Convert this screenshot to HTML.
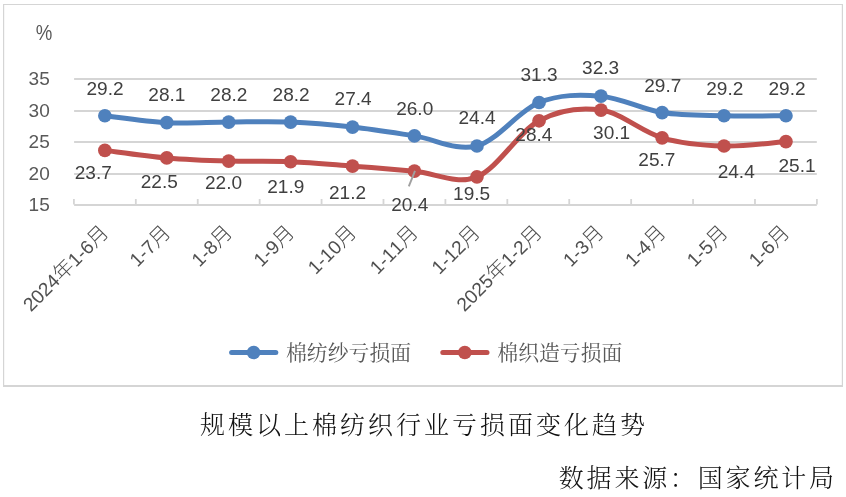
<!DOCTYPE html><html lang="zh"><head><meta charset="utf-8"><title>规模以上棉纺织行业亏损面变化趋势</title>
<style>html,body{margin:0;padding:0;background:#fff}body{width:846px;height:497px;overflow:hidden}svg{display:block}text{font-kerning:none}
.n{font-family:"Liberation Sans","Noto Sans CJK SC",sans-serif;font-size:18px;fill:#404040}
.a{font-family:"Liberation Sans","Noto Sans CJK SC",sans-serif;font-size:18px;fill:#595959}
.c{font-family:"Liberation Sans","Noto Sans CJK SC",sans-serif;font-size:19.2px;fill:#505050}.k{font-size:20.5px;font-weight:300}
.l{font-family:"Liberation Serif","Noto Serif CJK SC",serif;font-size:20.85px;fill:#595959;font-weight:400}
.t{font-family:"Liberation Serif","Noto Serif CJK SC",serif;font-size:25px;fill:#111;font-weight:300;letter-spacing:3.0px}
.s{font-family:"Liberation Serif","Noto Serif CJK SC",serif;font-size:25px;fill:#111;font-weight:300;letter-spacing:2.8px}
</style></head><body>
<svg width="846" height="497" viewBox="0 0 846 497">
<rect x="0" y="0" width="846" height="497" fill="#fff"/>
<path d="M3.6,4 V386.9 M3,4.5 H843 M842.4,4 V386.9" fill="none" stroke="#D5D5D5" stroke-width="1.2"/>
<path d="M3,385.9 H843" fill="none" stroke="#D5D5D5" stroke-width="2"/>
<line x1="74.10" y1="79.00" x2="816.80" y2="79.00" stroke="#D5D5D5" stroke-width="2"/>
<line x1="74.10" y1="111.00" x2="816.80" y2="111.00" stroke="#D5D5D5" stroke-width="2"/>
<line x1="74.10" y1="142.00" x2="816.80" y2="142.00" stroke="#D5D5D5" stroke-width="2"/>
<line x1="74.10" y1="174.00" x2="816.80" y2="174.00" stroke="#D5D5D5" stroke-width="2"/>
<line x1="74.10" y1="205.00" x2="816.80" y2="205.00" stroke="#D5D5D5" stroke-width="2"/>
<line x1="73.90" y1="199.00" x2="73.90" y2="204.60" stroke="#D5D5D5" stroke-width="1.8"/>
<line x1="135.82" y1="199.00" x2="135.82" y2="204.60" stroke="#D5D5D5" stroke-width="1.8"/>
<line x1="197.73" y1="199.00" x2="197.73" y2="204.60" stroke="#D5D5D5" stroke-width="1.8"/>
<line x1="259.65" y1="199.00" x2="259.65" y2="204.60" stroke="#D5D5D5" stroke-width="1.8"/>
<line x1="321.57" y1="199.00" x2="321.57" y2="204.60" stroke="#D5D5D5" stroke-width="1.8"/>
<line x1="383.48" y1="199.00" x2="383.48" y2="204.60" stroke="#D5D5D5" stroke-width="1.8"/>
<line x1="445.40" y1="199.00" x2="445.40" y2="204.60" stroke="#D5D5D5" stroke-width="1.8"/>
<line x1="507.32" y1="199.00" x2="507.32" y2="204.60" stroke="#D5D5D5" stroke-width="1.8"/>
<line x1="569.23" y1="199.00" x2="569.23" y2="204.60" stroke="#D5D5D5" stroke-width="1.8"/>
<line x1="631.15" y1="199.00" x2="631.15" y2="204.60" stroke="#D5D5D5" stroke-width="1.8"/>
<line x1="693.07" y1="199.00" x2="693.07" y2="204.60" stroke="#D5D5D5" stroke-width="1.8"/>
<line x1="754.98" y1="199.00" x2="754.98" y2="204.60" stroke="#D5D5D5" stroke-width="1.8"/>
<line x1="816.90" y1="199.00" x2="816.90" y2="204.60" stroke="#D5D5D5" stroke-width="1.8"/>
<text class="a" transform="translate(49.8,84.60) scale(1.06,1)" text-anchor="end">35</text>
<text class="a" transform="translate(49.8,116.60) scale(1.06,1)" text-anchor="end">30</text>
<text class="a" transform="translate(49.8,147.60) scale(1.06,1)" text-anchor="end">25</text>
<text class="a" transform="translate(49.8,179.60) scale(1.06,1)" text-anchor="end">20</text>
<text class="a" transform="translate(49.8,210.60) scale(1.06,1)" text-anchor="end">15</text>
<text class="a" transform="translate(44.0,40.1) scale(0.84,1)" text-anchor="middle" style="font-size:22.2px">%</text>
<text class="c" text-anchor="end" transform="translate(109.76,233.70) rotate(-45)">2024<tspan class="k">年</tspan>1-6<tspan class="k">月</tspan></text>
<text class="c" text-anchor="end" transform="translate(171.68,233.70) rotate(-45)">1-7<tspan class="k">月</tspan></text>
<text class="c" text-anchor="end" transform="translate(233.59,233.70) rotate(-45)">1-8<tspan class="k">月</tspan></text>
<text class="c" text-anchor="end" transform="translate(295.51,233.70) rotate(-45)">1-9<tspan class="k">月</tspan></text>
<text class="c" text-anchor="end" transform="translate(357.42,233.70) rotate(-45)">1-10<tspan class="k">月</tspan></text>
<text class="c" text-anchor="end" transform="translate(419.34,233.70) rotate(-45)">1-11<tspan class="k">月</tspan></text>
<text class="c" text-anchor="end" transform="translate(481.26,233.70) rotate(-45)">1-12<tspan class="k">月</tspan></text>
<text class="c" text-anchor="end" transform="translate(543.17,233.70) rotate(-45)">2025<tspan class="k">年</tspan>1-2<tspan class="k">月</tspan></text>
<text class="c" text-anchor="end" transform="translate(605.09,233.70) rotate(-45)">1-3<tspan class="k">月</tspan></text>
<text class="c" text-anchor="end" transform="translate(667.01,233.70) rotate(-45)">1-4<tspan class="k">月</tspan></text>
<text class="c" text-anchor="end" transform="translate(728.92,233.70) rotate(-45)">1-5<tspan class="k">月</tspan></text>
<text class="c" text-anchor="end" transform="translate(790.84,233.70) rotate(-45)">1-6<tspan class="k">月</tspan></text>
<path d="M104.86,115.74 C115.18,116.90 146.14,121.62 166.78,122.67 C187.41,123.72 208.05,122.15 228.69,122.04 C249.33,121.94 269.97,121.20 290.61,122.04 C311.25,122.88 331.89,124.77 352.52,127.08 C373.16,129.39 393.70,132.75 414.44,135.90 C435.18,139.05 456.19,151.54 476.96,145.98 C497.73,140.41 518.40,110.81 539.07,102.51 C559.75,94.22 580.49,94.53 600.99,96.21 C621.50,97.89 641.60,109.34 662.11,112.59 C682.61,115.84 703.39,115.22 724.02,115.74 C744.66,116.27 775.62,115.74 785.94,115.74" fill="none" stroke="#4F81BD" stroke-width="5" stroke-linecap="round" stroke-linejoin="round"/>
<circle cx="104.86" cy="115.74" r="6.85" fill="#4F81BD"/>
<circle cx="166.78" cy="122.67" r="6.85" fill="#4F81BD"/>
<circle cx="228.69" cy="122.04" r="6.85" fill="#4F81BD"/>
<circle cx="290.61" cy="122.04" r="6.85" fill="#4F81BD"/>
<circle cx="352.52" cy="127.08" r="6.85" fill="#4F81BD"/>
<circle cx="414.44" cy="135.90" r="6.85" fill="#4F81BD"/>
<circle cx="476.96" cy="145.98" r="6.85" fill="#4F81BD"/>
<circle cx="539.07" cy="102.51" r="6.85" fill="#4F81BD"/>
<circle cx="600.99" cy="96.21" r="6.85" fill="#4F81BD"/>
<circle cx="662.11" cy="112.59" r="6.85" fill="#4F81BD"/>
<circle cx="724.02" cy="115.74" r="6.85" fill="#4F81BD"/>
<circle cx="785.94" cy="115.74" r="6.85" fill="#4F81BD"/>
<path d="M104.86,150.39 C115.18,151.65 146.14,156.16 166.78,157.95 C187.41,159.73 208.05,160.47 228.69,161.10 C249.33,161.73 269.97,160.89 290.61,161.73 C311.25,162.57 331.89,164.56 352.52,166.14 C373.16,167.71 393.70,169.40 414.44,171.18 C435.18,172.97 456.19,185.25 476.96,176.85 C497.73,168.45 518.40,131.91 539.07,120.78 C559.75,109.65 580.49,107.23 600.99,110.07 C621.50,112.90 641.60,131.81 662.11,137.79 C682.61,143.77 703.39,145.35 724.02,145.98 C744.66,146.61 775.62,142.31 785.94,141.57" fill="none" stroke="#C0504D" stroke-width="5" stroke-linecap="round" stroke-linejoin="round"/>
<circle cx="104.86" cy="150.39" r="6.85" fill="#C0504D"/>
<circle cx="166.78" cy="157.95" r="6.85" fill="#C0504D"/>
<circle cx="228.69" cy="161.10" r="6.85" fill="#C0504D"/>
<circle cx="290.61" cy="161.73" r="6.85" fill="#C0504D"/>
<circle cx="352.52" cy="166.14" r="6.85" fill="#C0504D"/>
<circle cx="414.44" cy="171.18" r="6.85" fill="#C0504D"/>
<circle cx="476.96" cy="176.85" r="6.85" fill="#C0504D"/>
<circle cx="539.07" cy="120.78" r="6.85" fill="#C0504D"/>
<circle cx="600.99" cy="110.07" r="6.85" fill="#C0504D"/>
<circle cx="662.11" cy="137.79" r="6.85" fill="#C0504D"/>
<circle cx="724.02" cy="145.98" r="6.85" fill="#C0504D"/>
<circle cx="785.94" cy="141.57" r="6.85" fill="#C0504D"/>
<text class="n" transform="translate(105.0,94.9) scale(1.06,1)" text-anchor="middle">29.2</text>
<text class="n" transform="translate(166.9,100.5) scale(1.06,1)" text-anchor="middle">28.1</text>
<text class="n" transform="translate(228.9,100.5) scale(1.06,1)" text-anchor="middle">28.2</text>
<text class="n" transform="translate(291.1,100.5) scale(1.06,1)" text-anchor="middle">28.2</text>
<text class="n" transform="translate(353.1,105.1) scale(1.06,1)" text-anchor="middle">27.4</text>
<text class="n" transform="translate(414.7,114.8) scale(1.06,1)" text-anchor="middle">26.0</text>
<text class="n" transform="translate(477.0,124.3) scale(1.06,1)" text-anchor="middle">24.4</text>
<text class="n" transform="translate(539.0,81.0) scale(1.06,1)" text-anchor="middle">31.3</text>
<text class="n" transform="translate(600.6,73.8) scale(1.06,1)" text-anchor="middle">32.3</text>
<text class="n" transform="translate(662.8,91.9) scale(1.06,1)" text-anchor="middle">29.7</text>
<text class="n" transform="translate(724.8,94.7) scale(1.06,1)" text-anchor="middle">29.2</text>
<text class="n" transform="translate(787.0,94.7) scale(1.06,1)" text-anchor="middle">29.2</text>
<text class="n" transform="translate(93.3,179.1) scale(1.06,1)" text-anchor="middle">23.7</text>
<text class="n" transform="translate(159.3,187.7) scale(1.06,1)" text-anchor="middle">22.5</text>
<text class="n" transform="translate(223.5,189.3) scale(1.06,1)" text-anchor="middle">22.0</text>
<text class="n" transform="translate(285.8,192.5) scale(1.06,1)" text-anchor="middle">21.9</text>
<text class="n" transform="translate(347.5,198.9) scale(1.06,1)" text-anchor="middle">21.2</text>
<text class="n" transform="translate(409.7,211.2) scale(1.06,1)" text-anchor="middle">20.4</text>
<text class="n" transform="translate(471.6,200.2) scale(1.06,1)" text-anchor="middle">19.5</text>
<text class="n" transform="translate(533.9,141.2) scale(1.06,1)" text-anchor="middle">28.4</text>
<text class="n" transform="translate(611.6,139.1) scale(1.06,1)" text-anchor="middle">30.1</text>
<text class="n" transform="translate(656.9,166.0) scale(1.06,1)" text-anchor="middle">25.7</text>
<text class="n" transform="translate(736.2,178.3) scale(1.06,1)" text-anchor="middle">24.4</text>
<text class="n" transform="translate(797.0,172.3) scale(1.06,1)" text-anchor="middle">25.1</text>
<line x1="415.0" y1="170.8" x2="408.8" y2="186.4" stroke="#A0A0A0" stroke-width="1.9"/>
<line x1="231.6" y1="352.5" x2="275.8" y2="352.5" stroke="#4F81BD" stroke-width="5" stroke-linecap="round"/>
<circle cx="253.6" cy="352.5" r="6.85" fill="#4F81BD"/>
<text class="l" x="286" y="359.7">棉纺纱亏损面</text>
<line x1="442.8" y1="352.5" x2="487.0" y2="352.5" stroke="#C0504D" stroke-width="5" stroke-linecap="round"/>
<circle cx="464.8" cy="352.5" r="6.85" fill="#C0504D"/>
<text class="l" x="497.3" y="359.7">棉织造亏损面</text>
<text class="t" x="424" y="434" text-anchor="middle">规模以上棉纺织行业亏损面变化趋势</text>
<text class="s" x="836.8" y="486.6" text-anchor="end">数据来源：国家统计局</text>
</svg></body></html>
